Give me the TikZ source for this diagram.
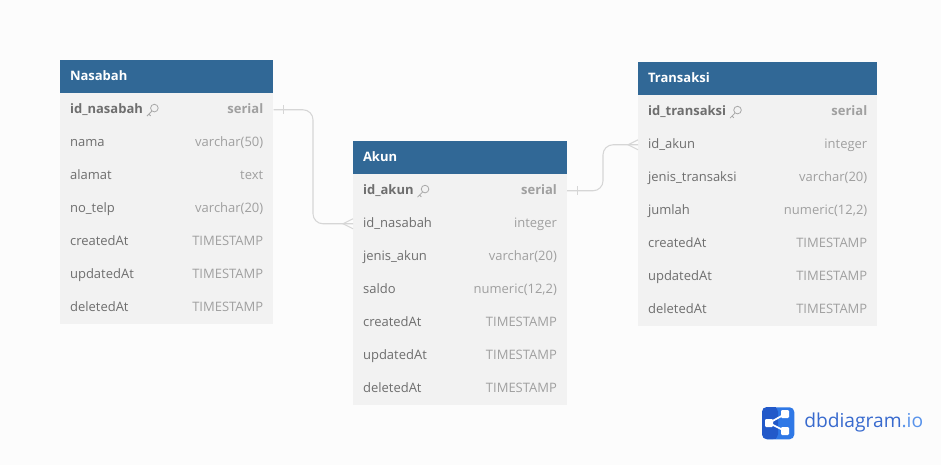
\documentclass[tikz,border=0pt]{standalone}
\usepackage{fontspec}
\setmainfont{Open Sans}
\usetikzlibrary{positioning, arrows.meta}

\definecolor{headBlue}{HTML}{316896}
\definecolor{rowGray}{HTML}{F2F2F2}
\definecolor{nameGray}{HTML}{6E6E6E}
\definecolor{typeGray}{HTML}{A0A0A0}
\definecolor{linkGray}{HTML}{D6D6D6}
\definecolor{pageWhite}{HTML}{FCFCFC}
\definecolor{logoDark}{HTML}{2259C9}
\definecolor{logoLight}{HTML}{2F78E6}

\begin{document}
\begin{tikzpicture}[
    x=0.75pt, y=-0.75pt,
    % Tables
    tablehead/.style={
        anchor=north west, fill=headBlue, inner sep=0pt, minimum height=24.75pt
    },
    tabletitle/.style={
        text=white, inner sep=0pt, text height=7.2pt, text depth=2.2pt, xshift=-0.2pt,
        font=\fontsize{9.75}{12}\selectfont\bfseries
    },
    tablerow/.style={
        anchor=north west, fill=rowGray, inner sep=0pt, minimum height=24.75pt
    },
    % Labels
    col_name/.style={font=\fontsize{9.75}{12}\selectfont, text=nameGray, inner sep=0pt,
        text height=7.2pt, text depth=2.4pt, xshift=-0.15pt, yshift=-0.6pt},
    col_type/.style={font=\fontsize{9.75}{12}\selectfont, text=typeGray, inner sep=0pt,
        text height=7.2pt, text depth=2.4pt, yshift=-0.6pt},
    % Connectors
    link/.style={draw=linkGray, line width=0.8pt},
    keyicon/.pic={
        \draw[nameGray!60, line width=0.6pt] (2.5,-2.5) circle (3.8);
        \draw[nameGray!60, line width=0.6pt] (0,0.5) -- (-5,5.5) (-3,3.5) -- (-1.2,5.3);
    }
]

    \useasboundingbox[fill=pageWhite] (0,0) rectangle (941,465);

    % --- NASABAH ---
    \node[tablehead, minimum width=159.75pt] (nasabah) at (60,60) {};
    \node[tabletitle, right=7.5pt of nasabah.west] (nasabah-title) {Nasabah};
    \foreach \i/\colname/\coltype in {1/id\_nasabah/serial, 2/nama/varchar(50), 3/alamat/text,
        4/no\_telp/varchar(20), 5/createdAt/TIMESTAMP, 6/updatedAt/TIMESTAMP, 7/deletedAt/TIMESTAMP} {
        \node[tablerow, minimum width=159.75pt] (nasabah-\i) at (60,60+33*\i) {};
        \node[col_name, right=7.5pt of nasabah-\i.west] (nasabah-name-\i) {\ifnum\i=1\bfseries\fi\colname};
        \node[col_type, left=7.5pt of nasabah-\i.east] (nasabah-type-\i) {\ifnum\i=1\bfseries\fi\coltype};
    }

    % --- AKUN ---
    \node[tablehead, minimum width=160.25pt] (akun) at (353,141) {};
    \node[tabletitle, right=7.5pt of akun.west] (akun-title) {Akun};
    \foreach \i/\colname/\coltype in {1/id\_akun/serial, 2/id\_nasabah/integer, 3/jenis\_akun/varchar(20),
        4/saldo/{numeric(12,2)}, 5/createdAt/TIMESTAMP, 6/updatedAt/TIMESTAMP, 7/deletedAt/TIMESTAMP} {
        \node[tablerow, minimum width=160.25pt] (akun-\i) at (353,141+33*\i) {};
        \node[col_name, right=7.5pt of akun-\i.west] (akun-name-\i) {\ifnum\i=1\bfseries\fi\colname};
        \node[col_type, left=7.5pt of akun-\i.east] (akun-type-\i) {\ifnum\i=1\bfseries\fi\coltype};
    }

    % --- TRANSAKSI ---
    \node[tablehead, minimum width=179.25pt] (transaksi) at (638,62) {};
    \node[tabletitle, right=7.5pt of transaksi.west] (transaksi-title) {Transaksi};
    \foreach \i/\colname/\coltype in {1/id\_transaksi/serial, 2/id\_akun/integer, 3/jenis\_transaksi/varchar(20),
        4/jumlah/{numeric(12,2)}, 5/createdAt/TIMESTAMP, 6/updatedAt/TIMESTAMP, 7/deletedAt/TIMESTAMP} {
        \node[tablerow, minimum width=179.25pt] (transaksi-\i) at (638,62+33*\i) {};
        \node[col_name, right=7.5pt of transaksi-\i.west] (transaksi-name-\i) {\ifnum\i=1\bfseries\fi\colname};
        \node[col_type, left=7.5pt of transaksi-\i.east] (transaksi-type-\i) {\ifnum\i=1\bfseries\fi\coltype};
    }

    % --- KEY ICONS ---
    \foreach \tbl in {nasabah, akun, transaksi} {
        \pic at ([xshift=6.5pt]\tbl-name-1.east) {keyicon};
    }

    % --- CONNECTIONS ---
    \draw[link, rounded corners=7.5pt] (nasabah-1.east) -| ([xshift=-30pt]akun-2.west) -- (akun-2.west);
    \draw[link, rounded corners=7.5pt] (akun-1.east) -| ([xshift=-26.25pt]transaksi-2.west) -- (transaksi-2.west);

    % One side
    \draw[link] ([xshift=7.5pt,yshift=3.4pt]nasabah-1.east) -- ++(0,9);
    \draw[link] ([xshift=7.5pt,yshift=3.4pt]akun-1.east) -- ++(0,9);

    % Many side
    \draw[link] ([yshift=3.75pt]akun-2.west) -- ([xshift=-7.5pt]akun-2.west) -- ([yshift=-3.75pt]akun-2.west);
    \draw[link] ([yshift=3.75pt]transaksi-2.west) -- ([xshift=-7.5pt]transaksi-2.west) -- ([yshift=-3.75pt]transaksi-2.west);

    % --- LOGO ---
    \node[anchor=north west, fill=logoLight, rounded corners=3.5pt, inner sep=0pt,
        minimum width=24pt, minimum height=24pt] (logo) at (762,407) {};
    \fill[logoDark, rounded corners=3.5pt] (762,407) rectangle (778,439);
    \fill[logoDark] (772,407) rectangle (776,439);
    \coordinate (logo-a) at (769,423);
    \coordinate (logo-b) at (785,414);
    \coordinate (logo-c) at (785,431);
    \draw[white, line width=1.3pt] (logo-b) -- (logo-a) -- (logo-c);
    \foreach \dot in {a,b,c} {
        \fill[white, rounded corners=0.8pt] ([xshift=-3pt,yshift=-3pt]logo-\dot) rectangle ([xshift=3pt,yshift=3pt]logo-\dot);
    }
    \node[anchor=west, inner sep=0pt, font=\fontsize{14.4}{18}\selectfont, text=logoDark!90!white] (logo-text)
        at (804,423) {dbdiagram\textcolor{logoLight!80!white}{.io}};

\end{tikzpicture}
\end{document}
